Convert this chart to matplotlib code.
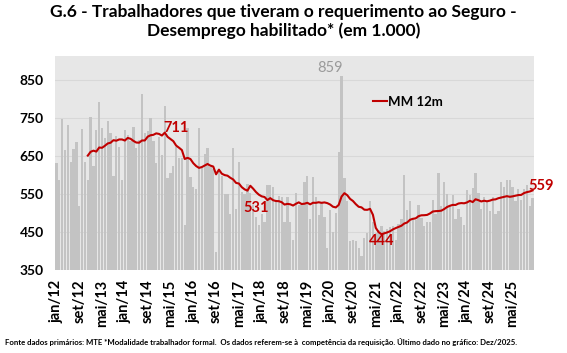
import numpy as np
import pandas as pd
import matplotlib
matplotlib.use("Agg")
import matplotlib.pyplot as plt

# --- DATA (mil requerimentos habilitados) ---
meses = ["jan", "fev", "mar", "abr", "mai", "jun", "jul", "ago", "set", "out", "nov", "dez"]
anos = list(range(2012, 2026))

v2012 = [631, 587, 746, 664, 731, 633, 669, 687, 517, 720, 634, 586]
v2013 = [752, 622, 717, 792, 722, 697, 742, 710, 597, 703, 674, 586]
v2014 = [718, 704, 690, 726, 670, 692, 812, 710, 716, 748, 688, 632]
v2015 = [700, 653, 782, 592, 604, 623, 672, 643, 643, 467, 724, 594]
v2016 = [569, 563, 724, 618, 654, 670, 620, 615, 398, 613, 597, 550]
v2017 = [550, 497, 671, 510, 634, 556, 550, 575, 552, 521, 490, 468]
v2018 = [497, 476, 574, 572, 568, 531, 545, 543, 477, 543, 477, 429]
v2019 = [552, 521, 521, 582, 597, 483, 594, 541, 495, 525, 490, 407]
v2020 = [508, 451, 499, 661, 859, 591, 530, 425, 429, 425, 408, 388]
v2021 = [434, 447, 530, 475, 447, 455, 465, 452, 458, 462, 466, 430]
v2022 = [471, 484, 600, 507, 532, 486, 480, 520, 486, 465, 475, 475]
v2023 = [533, 496, 604, 518, 582, 550, 520, 548, 484, 510, 489, 468]
v2024 = [560, 547, 565, 606, 553, 510, 543, 530, 504, 543, 497, 504]
v2025 = [581, 569, 587, 586, 567, 532, 562, 534, 562, 573, 517, 538]

valores = (v2012 + v2013 + v2014 + v2015 + v2016 + v2017 + v2018 + v2019
           + v2020 + v2021 + v2022 + v2023 + v2024 + v2025)
rotulos = [f"{m}/{str(a)[2:]}" for a in anos for m in meses]

# meses com rotulo na media movel
marcados = ["mar/15", "jun/18", "jul/21", "dez/25"]

df = pd.DataFrame({"mes": rotulos, "valor": valores})
df["mm12"] = df["valor"].rolling(12).mean()

plt.rcParams["font.family"] = ["Lato", "DejaVu Sans"]

fig = plt.figure(figsize=(5.67, 3.53), dpi=100)
ax = fig.add_axes([55 / 567, 1 - 270 / 353, (534 - 55) / 567, (270 - 56) / 353])
ax.set_facecolor("#e7e7e7")

x = np.arange(len(df))
ax.bar(x, df["valor"] - 350, bottom=350, width=0.8, color="#c3c3c3", zorder=2)
ax.plot(x, df["mm12"], color="#c00000", lw=1.5, zorder=3, label="MM 12m")

ax.set_xlim(-0.5, len(df) - 0.5)
ax.set_ylim(350, 912)
ax.set_yticks(range(350, 851, 100))
ax.grid(axis="y", color="#d8d8d8", lw=0.8, zorder=0)
ax.set_xticks(x[::8])
ax.set_xticklabels(df["mes"][::8], rotation=90, fontsize=10.5, fontweight="bold")
ax.tick_params(axis="y", labelsize=10, length=0, pad=8)
ax.tick_params(axis="x", length=0, pad=7)
for lbl in ax.get_yticklabels():
    lbl.set_fontweight("bold")
for s in ax.spines.values():
    s.set_visible(False)

# rotulos da media movel
offsets = {"mar/15": (4, 12), "jun/18": (-7, -18), "jul/21": (0, -18), "dez/25": (3, 12)}
for m in marcados:
    i = rotulos.index(m)
    v = df["mm12"][i]
    dx, dy = offsets[m]
    ax.text(i + dx, v + dy, f"{v:.0f}", color="#c00000", fontsize=10.5,
            fontweight="bold", ha="center", va="center", zorder=4)

# pico de 2020
ipico = int(np.argmax(valores))
ax.text(ipico - 4, valores[ipico] + 22, f"{valores[ipico]}", color="#9a9a9a",
        fontsize=10.5, ha="center", va="center", zorder=4)

ax.legend(loc="upper left", bbox_to_anchor=(0.64, 0.87), frameon=False,
          handlelength=1.0, handletextpad=0.1, prop={"weight": "bold", "size": 9.5})

fig.text(0.5, 0.99, "G.6 - Trabalhadores que tiveram o requerimento ao Seguro -\n"
         "Desemprego habilitado* (em 1.000)", ha="center", va="top",
         fontsize=12.5, fontweight="bold", linespacing=1.25)
fig.text(0.008, 0.02, "Fonte dados primários: MTE *Modalidade trabalhador formal.  "
         "Os dados referem-se à  competência da requisição. Último dado no gráfico: Dez/2025.",
         ha="left", va="bottom", fontsize=5.6, fontweight="bold")

fig.savefig("out.png", dpi=100)
